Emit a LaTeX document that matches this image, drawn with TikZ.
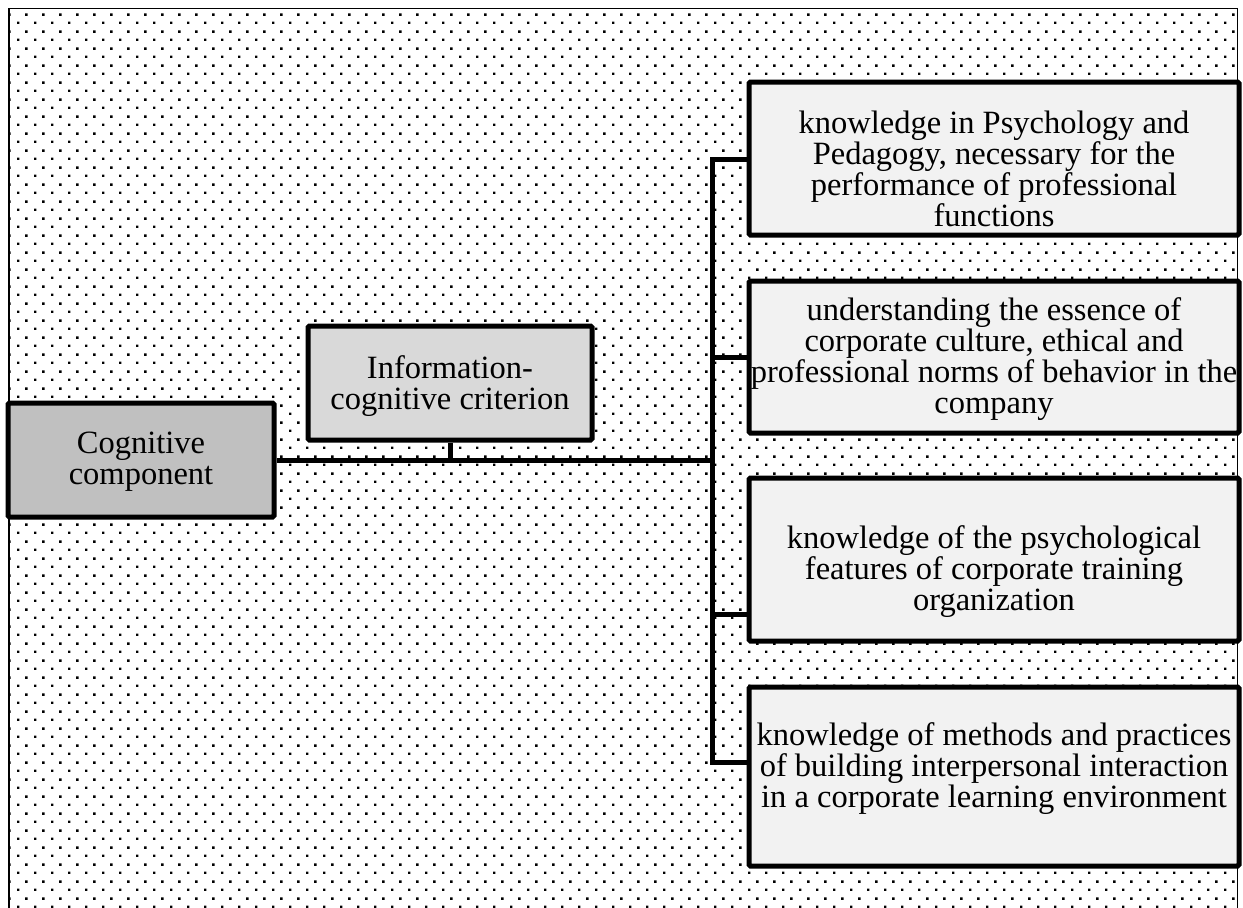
\documentclass[tikz,border=0pt]{standalone}
\usepackage{fontspec}
\setmainfont{Liberation Serif}
\usetikzlibrary{patterns.meta}
\tikzdeclarepattern{
  name=mydots,
  bottom left={(0pt,0pt)},
  top right={(16.667pt,16.667pt)},
  tile size={(16.667pt,16.667pt)},
  code={
    \fill[black] (0pt,0pt) rectangle (2.5pt,2.5pt);
    \fill[black] (8.333pt,8.333pt) rectangle (10.833pt,10.833pt);
  }
}
\definecolor{cogfill}{HTML}{C0C0C0}
\definecolor{infofill}{HTML}{D9D9D9}
\definecolor{itemfill}{HTML}{F2F2F2}
\tikzset{
  box/.style={draw=black, line width=5pt, rounded corners=1.5pt, inner sep=0pt},
  txt/.style={align=center, inner sep=0pt, font=\fontsize{32.5}{31}\selectfont},
  conn/.style={draw=black, line width=5pt},
}
\begin{document}
\begin{tikzpicture}[x=1pt,y=-1pt]
\useasboundingbox (0,0) rectangle (1243,908);
% background dots and frame
\fill[white] (0,0) rectangle (1243,908);
\fill[pattern=mydots] (10,9) rectangle (1236,908);
\draw[line width=2.2pt] (9,908) -- (9,8);
\draw[line width=1.2pt] (8,8.5) -- (1237.5,8.5);
\draw[line width=1.6pt] (1237.5,8) -- (1237.5,908);
% boxes
\node[box, fill=cogfill, minimum width=266pt, minimum height=114pt] (cog) at (141,460) {};
\node[txt] (cogt) at (141,462) {Cognitive\\component};
\node[box, fill=infofill, minimum width=284pt, minimum height=114pt] (info) at (450,383) {};
\node[txt] (infot) at (450,386) {Information-\\cognitive criterion};
\node[box, fill=itemfill, minimum width=490pt, minimum height=153pt] (b1) at (994,158.5) {};
\node[txt] (b1t) at (994,169) {knowledge in Psychology and\\Pedagogy, necessary for the\\performance of professional\\functions};
\node[box, fill=itemfill, minimum width=490pt, minimum height=152pt] (b2) at (994,357) {};
\node[txt] (b2t) at (994,359) {understanding the essence of\\corporate culture, ethical and\\professional norms of behavior in the\\company};
\node[box, fill=itemfill, minimum width=490pt, minimum height=163pt] (b3) at (994,559.5) {};
\node[txt] (b3t) at (994,572) {knowledge of the psychological\\features of corporate training\\organization};
\node[box, fill=itemfill, minimum width=490pt, minimum height=179pt] (b4) at (994,776.5) {};
\node[txt] (b4t) at (994,769) {knowledge of methods and practices\\of building interpersonal interaction\\in a corporate learning environment};
% connectors
\coordinate (j1) at (712,159);
\coordinate (j2) at (712,357);
\coordinate (j3) at (712,614);
\coordinate (j4) at (712,762);
\draw[conn] (j1 -| b1.west) -- (j1) -- (j4) -- (j4 -| b4.west);
\draw[conn] (j2) -- (j2 -| b2.west);
\draw[conn] (j3) -- (j3 -| b3.west);
\draw[conn] (cog.east) -- (cog.east -| j1);
\draw[conn] (info.south) -- (info.south |- cog.east);
\end{tikzpicture}
\end{document}
